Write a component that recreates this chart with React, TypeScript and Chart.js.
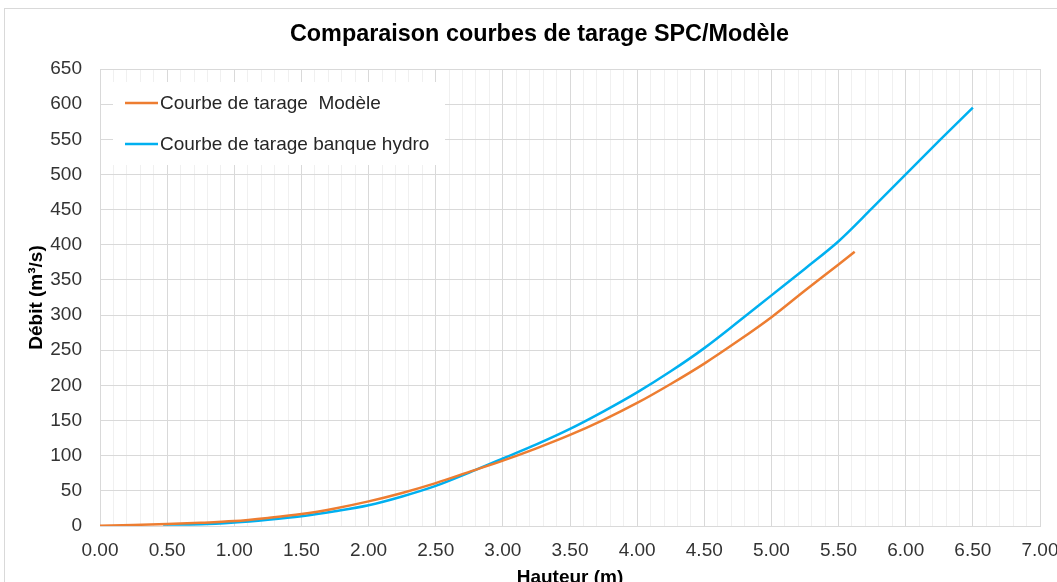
import React, { useEffect, useRef } from "react";
import { Chart, registerables } from "chart.js";

Chart.register(...registerables);

const chartTitle = "Comparaison courbes de tarage SPC/Modèle";
const xTitle = "Hauteur (m)";
const yTitle = "Débit (m³/s)";
const seriesNames = ["Courbe de tarage  Modèle", "Courbe de tarage banque hydro"];
const seriesColors = ["#ED7D31", "#00B0F0"];

const hauteurModele = [0, 0.25, 0.5, 0.75, 1.0, 1.25, 1.5, 1.75, 2.0, 2.25, 2.5, 2.75, 3.0, 3.25, 3.5, 3.75, 4.0, 4.25, 4.5, 4.75, 5.0, 5.25, 5.5, 5.62];
const debitModele = [0.5, 1.5, 2.8, 4.5, 7, 11.5, 17, 25, 35, 47, 61, 77, 93, 110.5, 129.5, 151, 175, 202, 231, 263, 297, 335, 372, 390];

const hauteurHydro = [0.47, 0.75, 1.0, 1.25, 1.5, 1.75, 2.0, 2.25, 2.5, 2.75, 3.0, 3.25, 3.5, 3.75, 4.0, 4.25, 4.5, 4.75, 5.0, 5.25, 5.5, 5.75, 6.0, 6.25, 6.5];
const debitHydro = [2, 2.5, 5, 9, 14, 21, 29.5, 42, 57, 76, 96, 116, 138, 163, 190, 220, 253, 290, 328, 366, 405, 452, 500, 548, 595];

const xMin = 0;
const xMax = 7;
const xMinorStep = 0.1;
const xMajorStep = 0.5;
const yMin = 0;
const yMax = 650;
const yStep = 50;

const FONT = "'Liberation Sans', Arial, sans-serif";

const isMajor = (v: number) => Math.abs(v / xMajorStep - Math.round(v / xMajorStep)) < 1e-6;

const overlayPlugin = {
  id: "overlayTexts",
  afterDraw(chart: any) {
    const ctx = chart.ctx;
    ctx.save();
    // title
    ctx.fillStyle = "#000000";
    ctx.font = `bold 23.4px ${FONT}`;
    ctx.textAlign = "center";
    ctx.textBaseline = "middle";
    ctx.fillText(chartTitle, 539.5, 35);
    // legend inside plot area
    ctx.fillStyle = "#ffffff";
    ctx.fillRect(113, 82, 332, 83);
    const rows = [103, 144];
    seriesNames.forEach((name, i) => {
      const y = rows[i];
      ctx.strokeStyle = seriesColors[i];
      ctx.lineWidth = 2.5;
      ctx.beginPath();
      ctx.moveTo(125, y);
      ctx.lineTo(158, y);
      ctx.stroke();
      ctx.fillStyle = "#262626";
      ctx.font = `19px ${FONT}`;
      ctx.textBaseline = "middle";
      ctx.textAlign = "left";
      ctx.fillText(name, 160, y + 1);
    });
    ctx.restore();
  },
};

export default function App() {
  const ref = useRef<HTMLCanvasElement>(null);

  useEffect(() => {
    document.body.style.margin = "0";
    const canvas = ref.current!;
    const chart = new Chart(canvas, {
      type: "line",
      data: {
        datasets: [
          {
            label: seriesNames[0],
            data: hauteurModele.map((h, i) => ({ x: h, y: debitModele[i] })),
            borderColor: seriesColors[0],
            backgroundColor: seriesColors[0],
            borderWidth: 2.5,
            pointRadius: 0,
            cubicInterpolationMode: "monotone",
            fill: false,
          },
          {
            label: seriesNames[1],
            data: hauteurHydro.map((h, i) => ({ x: h, y: debitHydro[i] })),
            borderColor: seriesColors[1],
            backgroundColor: seriesColors[1],
            borderWidth: 2.5,
            pointRadius: 0,
            cubicInterpolationMode: "monotone",
            fill: false,
          },
        ],
      },
      options: {
        responsive: false,
        animation: false,
        devicePixelRatio: 1,
        layout: { padding: { left: 0, right: 40, top: 69, bottom: 0 } },
        plugins: {
          legend: { display: false },
          tooltip: { enabled: false },
          title: { display: false },
        },
        scales: {
          x: {
            type: "linear",
            min: xMin,
            max: xMax,
            afterFit: (s: any) => {
              s.height = 64;
            },
            ticks: {
              stepSize: xMinorStep,
              autoSkip: false,
              maxRotation: 0,
              minRotation: 0,
              padding: 13,
              color: "#333333",
              font: { family: FONT, size: 19 },
              callback: (v: any) => (isMajor(Number(v)) ? Number(v).toFixed(2) : ""),
            },
            grid: {
              drawTicks: false,
              color: (c: any) => (c.tick && isMajor(c.tick.value) ? "#d9d9d9" : "#f0f0f0"),
              lineWidth: 1,
            },
            border: { display: true, color: "#d9d9d9" },
            title: {
              display: true,
              text: xTitle,
              color: "#000000",
              font: { family: FONT, size: 19, weight: "bold" },
              padding: { top: 0, bottom: 1 },
            },
          },
          y: {
            type: "linear",
            min: yMin,
            max: yMax,
            afterFit: (s: any) => {
              s.width = 100;
            },
            ticks: {
              stepSize: yStep,
              padding: 18,
              color: "#333333",
              font: { family: FONT, size: 19 },
            },
            grid: { drawTicks: false, color: "#d9d9d9", lineWidth: 1 },
            border: { display: true, color: "#d9d9d9" },
            title: {
              display: true,
              text: yTitle,
              color: "#000000",
              font: { family: FONT, size: 19, weight: "bold" },
              padding: { top: 25.6, bottom: 0 },
            },
          },
        },
      },
      plugins: [overlayPlugin],
    });
    return () => chart.destroy();
  }, []);

  return (
    <div
      style={{
        position: "fixed",
        left: 0,
        top: 0,
        width: 1057,
        height: 582,
        overflow: "hidden",
        background: "#ffffff",
      }}
    >
      <canvas ref={ref} width={1080} height={590} style={{ position: "absolute", left: 0, top: 0 }} />
      <div
        style={{
          position: "absolute",
          left: 4,
          top: 8,
          width: 1100,
          height: 700,
          border: "1px solid #d9d9d9",
          pointerEvents: "none",
        }}
      />
    </div>
  );
}
